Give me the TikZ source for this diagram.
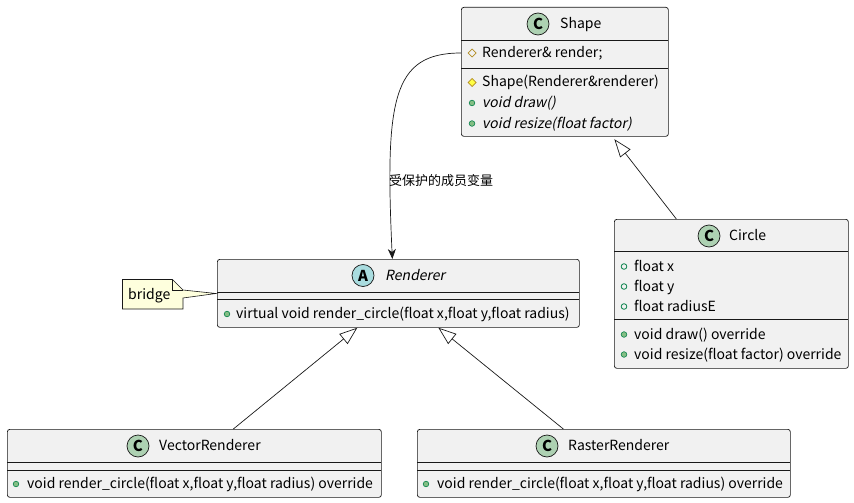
\documentclass[tikz,border=0pt]{standalone}
\usepackage{fontspec}
\setmainfont{Noto Sans CJK SC}
\newfontfamily\slfont[FakeSlant=0.2]{Noto Sans CJK SC}
\usetikzlibrary{calc,arrows.meta}
\definecolor{boxfill}{HTML}{F1F1F1}
\definecolor{linec}{HTML}{181818}
\definecolor{iconC}{HTML}{ADD1B2}
\definecolor{iconA}{HTML}{A9DCDF}
\definecolor{notefill}{HTML}{FEFFDD}
\definecolor{pubgreen}{HTML}{038048}
\definecolor{pubfill}{HTML}{84BE84}
\definecolor{protc}{HTML}{B38D22}
\definecolor{protfill}{HTML}{FFFF44}
\def\pubm(#1){\draw[line width=0.6pt, color=pubgreen, fill=pubfill] (#1) circle (2.8);}
\def\pubf(#1){\draw[line width=0.8pt, color=pubgreen] (#1) circle (2.8);}
\def\prot[#1](#2){\draw[line width=0.7pt, color=protc, #1] ($(#2)+(-4,0)$) -- ++(4,-4) -- ++(4,4) -- ++(-4,4) -- cycle;}

\begin{document}
\begin{tikzpicture}[x=1pt, y=-1pt, font=\fontsize{14}{16}\selectfont,
		classbox/.style={draw=linec, fill=boxfill, line width=0.7pt, rounded corners=2.5pt, anchor=north west, inner sep=0pt},
		sepline/.style={draw=linec, line width=0.7pt},
		icon/.style={circle, draw=linec, line width=0.7pt, minimum size=22pt, inner sep=0pt, font=\fontsize{15}{15}\selectfont\bfseries},
		member/.style={anchor=west, inner sep=0pt, text height=11pt, text depth=2pt, text=black},
		inherit/.style={draw=linec, line width=0.7pt, -{Triangle[open, length=18pt, width=13pt]}},
		assoc/.style={draw=linec, line width=0.7pt, -{Stealth[length=10pt, width=8pt, inset=3pt]}}]
		%%%%% START %%%%%
		
		\useasboundingbox (0,0) rectangle (854,503);
		
		% Shape
		\node[classbox, minimum width=207pt, minimum height=129pt] (shape) at (461,7) {};
		\node[icon, fill=iconC] (shapeI) at (538,24) {C};
		\node[member] (shapeT) at (560,24) {Shape};
		\draw[sepline] (461,40) -- (668,40);
		\draw[sepline] (461,68) -- (668,68);
		\prot[fill=boxfill](472,53)
		\node[member] (shapeF1) at (482,53) {Renderer\& render;};
		\prot[fill=protfill](472,82.5)
		\node[member] (shapeM1) at (482,82.5) {Shape(Renderer\&renderer)};
		\pubm(472,103)
		\node[member] (shapeM2) at (482,103) {\slfont void draw()};
		\pubm(472,123.5)
		\node[member] (shapeM3) at (482,123.5) {\slfont void resize(float factor)};
		
		% Renderer
		\node[classbox, minimum width=362pt, minimum height=68pt] (renderer) at (217,259) {};
		\node[icon, fill=iconA] (rendererI) at (363,275.5) {A};
		\node[member] (rendererT) at (385,275.5) {\slfont Renderer};
		\draw[sepline] (217,292) -- (579,292);
		\draw[sepline] (217,299.5) -- (579,299.5);
		\pubm(227,314)
		\node[member] (rendererM1) at (236,314) {virtual void render\_circle(float x,float y,float radius)};
		
		% Circle
		\node[classbox, minimum width=234pt, minimum height=149pt] (circle) at (614,219) {};
		\node[icon, fill=iconC] (circleI) at (709,236) {C};
		\node[member] (circleT) at (729,236) {Circle};
		\draw[sepline] (614,251) -- (848,251);
		\draw[sepline] (614,319.5) -- (848,319.5);
		\pubf(624,266.5)
		\node[member] (circleF1) at (634,266.5) {float x};
		\pubf(624,286.5)
		\node[member] (circleF2) at (634,286.5) {float y};
		\pubf(624,306.5)
		\node[member] (circleF3) at (634,306.5) {float radiusE};
		\pubm(624,334.5)
		\node[member] (circleM1) at (634,334.5) {void draw() override};
		\pubm(624,354.5)
		\node[member] (circleM2) at (634,354.5) {void resize(float factor) override};
		
		% VectorRenderer
		\node[classbox, minimum width=374pt, minimum height=68pt] (vector) at (7,429) {};
		\node[icon, fill=iconC] (vectorI) at (138,446) {C};
		\node[member] (vectorT) at (159,446) {VectorRenderer};
		\draw[sepline] (7,462) -- (381,462);
		\draw[sepline] (7,470) -- (381,470);
		\pubm(16,484)
		\node[member] (vectorM1) at (27,484) {void render\_circle(float x,float y,float radius) override};
		
		% RasterRenderer
		\node[classbox, minimum width=373pt, minimum height=68pt] (raster) at (417,429) {};
		\node[icon, fill=iconC] (rasterI) at (547,446) {C};
		\node[member] (rasterT) at (568,446) {RasterRenderer};
		\draw[sepline] (417,462) -- (790,462);
		\draw[sepline] (417,470) -- (790,470);
		\pubm(426,484)
		\node[member] (rasterM1) at (437,484) {void render\_circle(float x,float y,float radius) override};
		
		% note
		\draw[line width=0.6pt, color=linec, fill=notefill] (122.5,279.5) -- (172.5,279.5) -- (183,290) -- (216,293.5) -- (183,298) -- (183,309) -- (122.5,309) -- cycle;
		\draw[line width=0.6pt, color=linec] (172.5,279.5) -- (172.5,290) -- (183,290);
		\node[member] (noteT) at (128,295) {bridge};
		
		% links
		\draw[assoc] (shape.west |- shapeF1) .. controls (392,53) and (385,100) .. ($(renderer.north)+(-6,0)$);
		\node[member, font=\fontsize{13}{15}\selectfont] (assocL) at (389,181) {受保护的成员变量};
		\draw[inherit] ($(circle.north)+(-55,0)$) -- ($(shape.south)+(49.5,2.5)$);
		\draw[inherit] ($(vector.north)+(39,0)$) -- ($(renderer.south)+(-41,0)$);
		\draw[inherit] ($(raster.north)+(-40.5,0)$) -- ($(renderer.south)+(40,0)$);
		
		%%%%% END %%%%%
	\end{tikzpicture}
\end{document}
